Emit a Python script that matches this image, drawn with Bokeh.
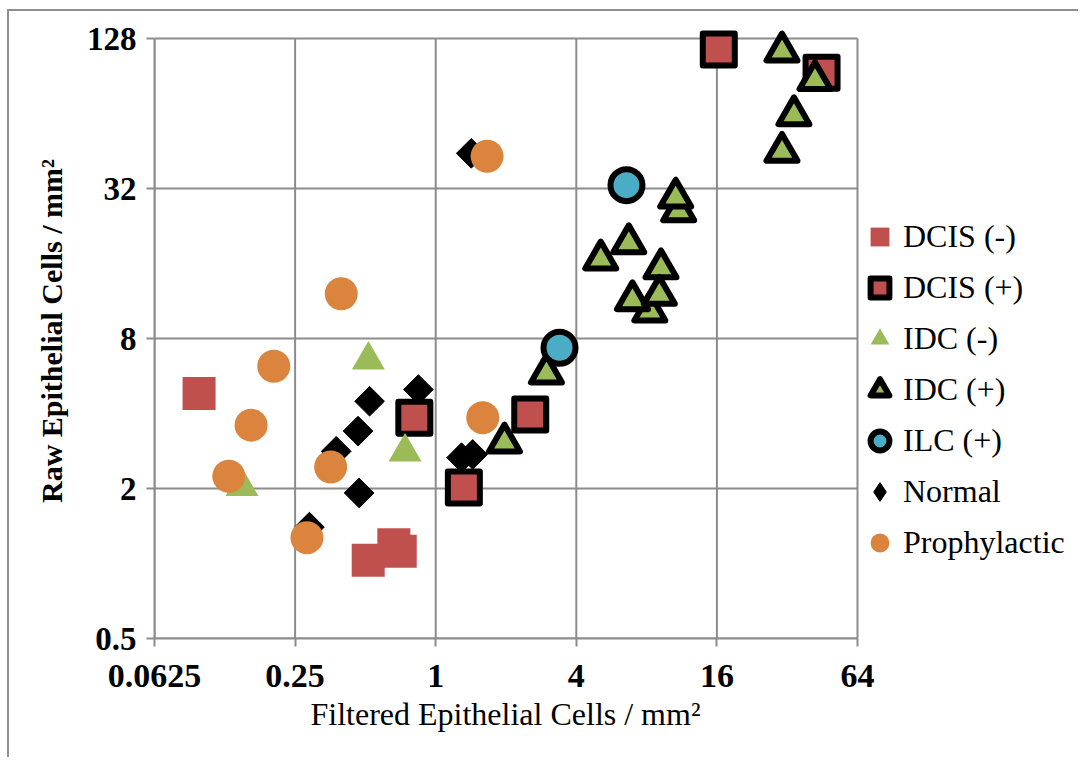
import math
from bokeh.plotting import figure
from bokeh.models import FixedTicker, Legend, LegendItem, Title
from bokeh.embed import file_html
from bokeh.resources import INLINE

# ---- tick values / labels ----
xticks = [0.0625, 0.25, 1, 4, 16, 64]
xtick_labels = ["0.0625", "0.25", "1", "4", "16", "64"]
yticks = [0.5, 2, 8, 32, 128]
ytick_labels = ["0.5", "2", "8", "32", "128"]

x_title = "Filtered Epithelial Cells / mm²"
y_title = "Raw Epithelial Cells / mm²"

# ---- series (Filtered, Raw) epithelial cells / mm^2 ----
dcis_neg_x = [0.097, 0.514, 0.662, 0.705]
dcis_neg_y = [4.81, 1.03, 1.19, 1.12]

dcis_pos_x = [0.81, 1.32, 2.54, 16.3, 44.9]
dcis_pos_y = [3.85, 2.02, 3.96, 115.6, 93.3]

idc_neg_x = [0.148, 0.515, 0.739]
idc_neg_y = [2.04, 6.56, 2.80]

idc_pos_x = [30.4, 42.1, 34.2, 30.4, 10.98, 10.66, 5.09, 6.71, 9.22, 8.26, 6.96, 9.07, 2.98, 1.97]
idc_pos_y = [113.5, 87.1, 63.0, 44.9, 25.9, 29.4, 16.6, 19.3, 15.3, 10.27, 11.4, 11.98, 5.79, 3.06]

ilc_pos_x = [6.56, 3.39]
ilc_pos_y = [33.0, 7.34]

normal_x = [1.42, 0.521, 0.465, 0.375, 0.470, 0.288, 0.843, 1.29, 1.44]
normal_y = [44.3, 4.48, 3.40, 2.82, 1.92, 1.40, 4.99, 2.66, 2.74]

proph_x = [1.66, 0.394, 0.2026, 0.162, 0.130, 0.355, 0.281, 1.59]
proph_y = [43.1, 12.1, 6.19, 3.59, 2.24, 2.44, 1.27, 3.85]

series_labels = ["DCIS (-)", "DCIS (+)", "IDC (-)", "IDC (+)", "ILC (+)", "Normal", "Prophylactic"]

RED = "#C0504D"
GREEN = "#9BBB59"
BLUE = "#4BACC6"
ORANGE = "#DB843D"
GRAY = "#8c8c8c"
FONT = "Liberation Serif"

# marker styles per series (used by the plot and by the legend)
styles = {
    "DCIS (-)": dict(marker="square", size=33, fill_color=RED, line_color=None),
    "DCIS (+)": dict(marker="square", size=32, fill_color=RED, line_color="black",
                     line_width=6, line_join="round"),
    "IDC (-)": dict(marker="triangle", size=33, fill_color=GREEN, line_color=None),
    "IDC (+)": dict(marker="triangle", size=31, fill_color=GREEN, line_color="black",
                    line_width=6, line_join="round"),
    "ILC (+)": dict(marker="circle", size=32, fill_color=BLUE, line_color="black", line_width=6),
    "Normal": dict(marker="diamond", size=21, fill_color="black", line_color="black"),
    "Prophylactic": dict(marker="circle", size=33, fill_color=ORANGE, line_color=None),
}

X0, X1 = xticks[0], xticks[-1]
Y0, Y1 = yticks[0], yticks[-1]

# canvas geometry (page offset 9,11 comes from the border styles)
W, H = 1071, 748
LEFT, BOTTOM = 145, 121
GRID_W, GRID_H = 703, 600          # pixel size of the gridded area
PAD_TOP_PX = 15                    # room above the top grid line
FRAME_W = W - LEFT                 # frame runs to the right edge (legend lives there)
FRAME_H = GRID_H + PAD_TOP_PX
x_end = X1 * 2 ** ((FRAME_W - GRID_W) * math.log2(X1 / X0) / GRID_W)
y_end = Y1 * 2 ** (PAD_TOP_PX * math.log2(Y1 / Y0) / GRID_H)

p = figure(width=W, height=H, x_axis_type="log", y_axis_type="log",
           x_range=(X0, x_end), y_range=(Y0, y_end),
           output_backend="svg", toolbar_location=None,
           min_border_left=LEFT, min_border_right=0,
           min_border_top=H - BOTTOM - FRAME_H, min_border_bottom=BOTTOM)
p.styles = {"margin-left": "7px", "margin-top": "9px",
            "border-left": "2px solid #8f8f8f", "border-top": "2px solid #8f8f8f"}

p.background_fill_color = "white"
p.border_fill_color = "white"
p.outline_line_color = None
p.xgrid[0].visible = False
p.ygrid[0].visible = False

xt = FixedTicker(ticks=xticks, minor_ticks=[])
yt = FixedTicker(ticks=yticks, minor_ticks=[])
p.xaxis[0].ticker = xt
p.yaxis[0].ticker = yt
p.xaxis[0].bounds = (X0, X1)
p.yaxis[0].bounds = (Y0, Y1)
p.xaxis[0].major_label_overrides = dict(zip(xticks, xtick_labels))
p.yaxis[0].major_label_overrides = dict(zip(yticks, ytick_labels))

# grid lines limited to the gridded area
p.segment(x0=xticks, y0=[Y0] * len(xticks), x1=xticks, y1=[Y1] * len(xticks),
          line_color=GRAY, line_width=2, level="underlay")
p.segment(x0=[X0] * len(yticks), y0=yticks, x1=[X1] * len(yticks), y1=yticks,
          line_color=GRAY, line_width=2, level="underlay")

for ax in (p.xaxis[0], p.yaxis[0]):
    ax.axis_line_color = GRAY
    ax.axis_line_width = 2
    ax.major_tick_line_color = GRAY
    ax.major_tick_line_width = 2
    ax.major_tick_out = 8
    ax.major_tick_in = 0
    ax.minor_tick_line_color = None
    ax.major_label_text_font = FONT
    ax.major_label_text_font_style = "bold"
    ax.major_label_text_color = "black"
    ax.axis_label_text_font = FONT
    ax.axis_label_text_color = "black"

p.xaxis[0].major_label_text_font_size = "34px"
p.xaxis[0].major_label_standoff = 18

# x title: left-aligned so that it sits centred under the gridded area
xt_title = Title(text=x_title, align="left", offset=156, standoff=9,
                 text_font=FONT, text_font_size="32px", text_font_style="normal",
                 text_color="black")
p.add_layout(xt_title, "below")

p.yaxis[0].axis_label = y_title
p.yaxis[0].axis_label_text_font_size = "30px"
p.yaxis[0].axis_label_text_font_style = "bold"
p.yaxis[0].major_label_text_font_size = "33px"
p.yaxis[0].major_label_standoff = 10
p.yaxis[0].axis_label_standoff = 16

# ---- glyphs (drawing order as in the reference) ----
normal_style = dict(styles["Normal"])
normal_style.update(marker="square", angle=math.pi / 4, line_width=1)
p.scatter(normal_x, normal_y, **normal_style)
renderers = {}
renderers["DCIS (-)"] = p.scatter(dcis_neg_x, dcis_neg_y, **styles["DCIS (-)"])
renderers["DCIS (+)"] = p.scatter(dcis_pos_x, dcis_pos_y, **styles["DCIS (+)"])
renderers["IDC (-)"] = p.scatter(idc_neg_x, idc_neg_y, **styles["IDC (-)"])
renderers["IDC (+)"] = p.scatter(idc_pos_x, idc_pos_y, **styles["IDC (+)"])
renderers["ILC (+)"] = p.scatter(ilc_pos_x, ilc_pos_y, **styles["ILC (+)"])
renderers["Prophylactic"] = p.scatter(proph_x, proph_y, **styles["Prophylactic"])
# legend-only diamond for "Normal" (no visible point)
renderers["Normal"] = p.scatter([float("nan")], [float("nan")], **styles["Normal"])

legend = Legend(items=[LegendItem(label=lab, renderers=[renderers[lab]]) for lab in series_labels],
                location=(702, 72))
legend.glyph_width = 47
legend.glyph_height = 47
legend.spacing = 4
legend.padding = 0
legend.margin = 0
legend.label_standoff = 0
legend.border_line_color = None
legend.background_fill_alpha = 0
legend.label_text_font = FONT
legend.label_text_font_size = "32px"
legend.label_text_color = "black"
p.add_layout(legend, "center")

open("out.html", "w").write(file_html(p, INLINE))
